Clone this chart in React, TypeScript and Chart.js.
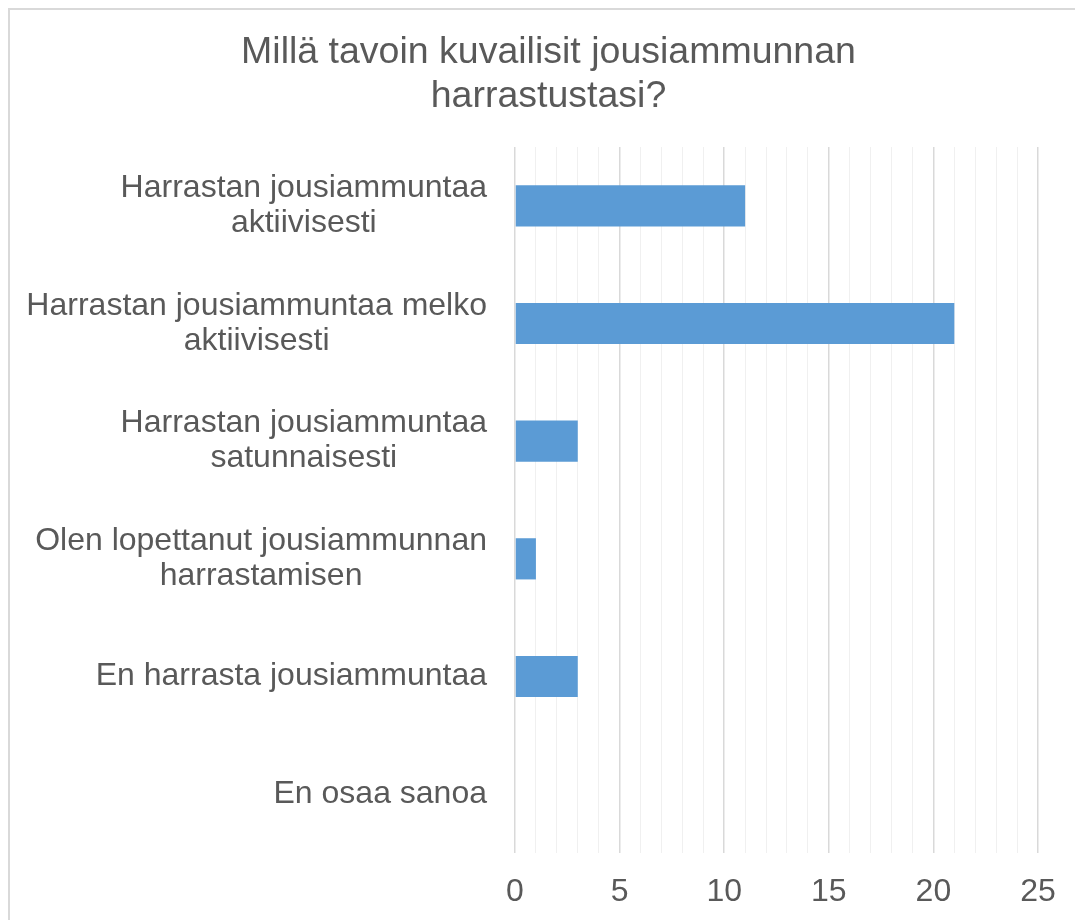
import React, { useEffect, useRef } from "react";
import { Chart, registerables } from "chart.js";

Chart.register(...registerables);

const titleLines: string[] = ["Millä tavoin kuvailisit jousiammunnan", "harrastustasi?"];
const categories: string[][] = [
  ["Harrastan jousiammuntaa", "aktiivisesti"],
  ["Harrastan jousiammuntaa melko", "aktiivisesti"],
  ["Harrastan jousiammuntaa", "satunnaisesti"],
  ["Olen lopettanut jousiammunnan", "harrastamisen"],
  ["En harrasta jousiammuntaa"],
  ["En osaa sanoa"],
];
const values: number[] = [11, 21, 3, 1, 3, 0];
const xMin = 0;
const xMax = 25;
const majorStep = 5;

const FONT = "'Liberation Sans', Arial, sans-serif";
const TEXT = "#595959";

const labelsPlugin = {
  id: "customLabels",
  afterDraw(chart: any) {
    const ctx = chart.ctx;
    const area = chart.chartArea;
    const yScale = chart.scales.y;
    ctx.save();
    ctx.fillStyle = TEXT;
    // title
    ctx.font = `37.5px ${FONT}`;
    ctx.textAlign = "center";
    ctx.textBaseline = "alphabetic";
    const tx = chart.width / 2 + 2;
    titleLines.forEach((line, i) => {
      ctx.fillText(line, tx, 53 + i * 44.3);
    });
    // category labels
    ctx.font = `32px ${FONT}`;
    ctx.textBaseline = "middle";
    const right = area.left - 28;
    const lh = 35;
    categories.forEach((lines, i) => {
      const cy = yScale.getPixelForValue(i);
      const w = Math.max(...lines.map((l) => ctx.measureText(l).width));
      const cx = right - w / 2;
      const y0 = cy - ((lines.length - 1) * lh) / 2;
      lines.forEach((l, j) => ctx.fillText(l, cx, y0 + j * lh));
    });
    ctx.restore();
  },
};

export default function App() {
  const ref = useRef<HTMLCanvasElement>(null);
  useEffect(() => {
    document.documentElement.style.overflow = "hidden";
    if (!ref.current) return;
    const chart = new Chart(ref.current, {
      type: "bar",
      data: {
        labels: categories.map((c) => c.join(" ")),
        datasets: [
          {
            data: values,
            backgroundColor: "#5b9bd5",
            borderWidth: 0,
            categoryPercentage: 0.35,
            barPercentage: 1,
          },
        ],
      },
      options: {
        indexAxis: "y",
        responsive: false,
        animation: false,
        layout: { padding: { left: 505, right: 45, top: 137, bottom: 4 } },
        plugins: { legend: { display: false }, title: { display: false }, tooltip: { enabled: false } },
        scales: {
          x: {
            min: xMin,
            max: xMax,
            border: { display: false },
            grid: {
              drawTicks: false,
              color: (c: any) => (c.tick && c.tick.value % majorStep === 0 ? "#d9d9d9" : "#f0f0f0"),
              lineWidth: (c: any) => (c.tick && c.tick.value % majorStep === 0 ? 1.5 : 1),
            },
            ticks: {
              stepSize: 1,
              autoSkip: false,
              maxRotation: 0,
              padding: 23,
              color: TEXT,
              font: { family: FONT, size: 32, lineHeight: 1 },
              callback: (v: any) => (Number(v) % majorStep === 0 ? String(v) : ""),
            },
          },
          y: {
            border: { display: false },
            grid: { display: false, drawTicks: false },
            ticks: { display: false },
          },
        },
      },
      plugins: [labelsPlugin],
    });
    return () => chart.destroy();
  }, []);
  return (
    <div
      style={{
        width: 1100,
        height: 940,
        boxSizing: "border-box",
        borderTop: "2px solid #d9d9d9",
        borderLeft: "2px solid #d9d9d9",
        background: "#fff",
        overflow: "hidden",
      }}
    >
      <canvas ref={ref} width={1073} height={925} style={{ display: "block" }} />
    </div>
  );
}
